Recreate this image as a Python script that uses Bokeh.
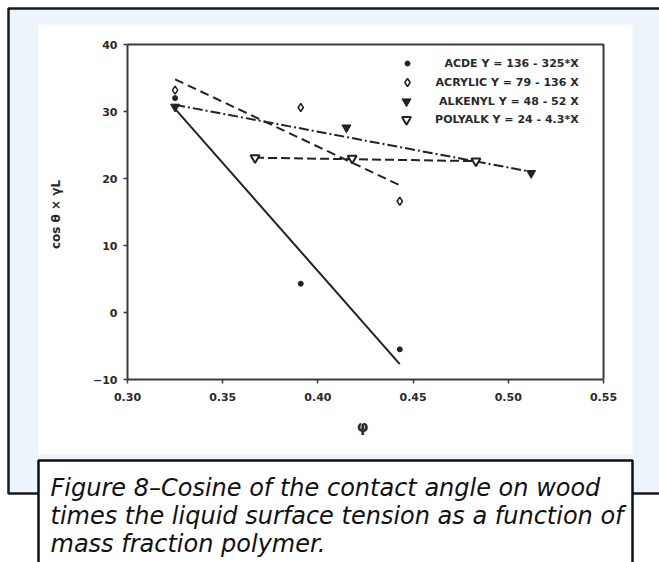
import math
from bokeh.plotting import figure
from bokeh.models import Range1d, LinearAxis, FixedTicker, NumeralTickFormatter
from bokeh.core.properties import value
from bokeh.embed import file_html
from bokeh.resources import INLINE

# ---------------- data ----------------
x_ticks = [0.30, 0.35, 0.40, 0.45, 0.50, 0.55]
y_ticks = [-10, 0, 10, 20, 30, 40]

acde_x = [0.325, 0.391, 0.443]
acde_y = [32.0, 4.3, -5.5]
acrylic_x = [0.325, 0.391, 0.443]
acrylic_y = [33.2, 30.6, 16.6]
alkenyl_x = [0.325, 0.415, 0.512]
alkenyl_y = [30.7, 27.6, 20.8]
polyalk_x = [0.367, 0.418, 0.483]
polyalk_y = [23.1, 23.0, 22.6]

# fitted lines (end points)
acde_fit_x = [0.325, 0.443]
acde_fit_y = [30.4, -7.7]
acrylic_fit_x = [0.325, 0.443]
acrylic_fit_y = [34.8, 19.0]
alkenyl_fit_x = [0.325, 0.512]
alkenyl_fit_y = [31.0, 21.0]
polyalk_fit_x = [0.367, 0.483]
polyalk_fit_y = [23.1, 22.6]

legend_labels = ["ACDE  Y = 136 - 325*X",
                 "ACRYLIC  Y = 79 - 136 X",
                 "ALKENYL  Y = 48 - 52 X",
                 "POLYALK  Y = 24 - 4.3*X"]
caption_lines = ["Figure 8\u2013Cosine of the contact angle on wood",
                 "times the liquid surface tension as a function of",
                 "mass fraction polymer."]
y_label = "cos \u03b8 \u00d7 \u03b3L"
x_label = "\u03c6"

# ---------------- layout (pixels) ----------------
W, H = 659, 562
AX_L, AX_R, AX_T, AX_B = 127, 603, 44, 379
sx = (AX_R - AX_L) / (x_ticks[-1] - x_ticks[0])
sy = (AX_B - AX_T) / (y_ticks[-1] - y_ticks[0])
x0 = x_ticks[0] - AX_L / sx
x1 = x_ticks[0] + (W - AX_L) / sx
y1 = y_ticks[-1] + AX_T / sy
y0 = y_ticks[-1] - (H - AX_T) / sy

p = figure(width=W, height=H, x_range=Range1d(x0, x1), y_range=Range1d(y0, y1),
           x_axis_location=None, y_axis_location=None, toolbar_location=None,
           output_backend="svg", min_border=0, min_border_left=0, min_border_right=0,
           min_border_top=0, min_border_bottom=0)
p.outline_line_color = None
p.background_fill_color = "white"
p.border_fill_color = "white"
for g in p.grid:
    g.visible = False
p.extra_x_ranges = {"px": Range1d(0, W)}
p.extra_y_ranges = {"px": Range1d(H, 0)}
PX = dict(x_range_name="px", y_range_name="px")

# page decoration
p.quad(left=[8], right=[W + 5], top=[8], bottom=[493], fill_color="#EEF4FB",
       line_color="#1a1a1a", line_width=2.5, **PX)
p.quad(left=[38], right=[632], top=[24], bottom=[454], fill_color="white",
       line_color=None, **PX)

# axes
INK = "#3a3a3a"
xaxis = LinearAxis(fixed_location=y_ticks[0], ticker=FixedTicker(ticks=x_ticks),
                   formatter=NumeralTickFormatter(format="0.00"),
                   bounds=(x_ticks[0], x_ticks[-1]))
yaxis = LinearAxis(fixed_location=x_ticks[0], ticker=FixedTicker(ticks=y_ticks),
                   bounds=(y_ticks[0], y_ticks[-1]))
for ax in (xaxis, yaxis):
    ax.axis_line_color = INK
    ax.axis_line_width = 2
    ax.major_tick_line_color = INK
    ax.major_tick_line_width = 1.5
    ax.major_tick_out = 4
    ax.major_tick_in = 0
    ax.minor_tick_line_color = None
    ax.major_label_text_font = "DejaVu Sans"
    ax.major_label_text_font_style = "bold"
    ax.major_label_text_font_size = "11px"
    ax.major_label_text_color = "#2a2a2a"
xaxis.major_label_standoff = 9
yaxis.major_label_standoff = 6
p.add_layout(xaxis, "below")
p.add_layout(yaxis, "left")
p.line(x=[x_ticks[0], x_ticks[-1], x_ticks[-1]], y=[y_ticks[-1], y_ticks[-1], y_ticks[0]],
       line_color=INK, line_width=2)

# fit lines
LC = "#222222"
p.line(acde_fit_x, acde_fit_y, line_color=LC, line_width=2)
p.line(acrylic_fit_x, acrylic_fit_y, line_color=LC, line_width=2, line_dash="9 5")
p.line(alkenyl_fit_x, alkenyl_fit_y, line_color=LC, line_width=2, line_dash="10 3 2 3")
p.line(polyalk_fit_x, polyalk_fit_y, line_color=LC, line_width=2, line_dash="9 4")

# points
p.scatter(acde_x, acde_y, marker="circle", size=5, fill_color=LC, line_color=LC)
p.scatter(acrylic_x, acrylic_y, marker="diamond", size=8, fill_color="white",
          line_color=LC, line_width=1.5)
p.scatter(alkenyl_x, alkenyl_y, marker="inverted_triangle", size=9, fill_color=LC,
          line_color=LC)
p.scatter(polyalk_x, polyalk_y, marker="inverted_triangle", size=9, fill_color="white",
          line_color=LC, line_width=2)

# legend (drawn inside the plot box)
leg_y = [63, 82, 101, 119]
leg_mx = [407, 407, 406, 406]
p.scatter([leg_mx[0]], [leg_y[0]], marker="circle", size=5, fill_color=LC, line_color=LC, **PX)
p.scatter([leg_mx[1]], [leg_y[1]], marker="diamond", size=8, fill_color="white",
          line_color=LC, line_width=1.5, **PX)
p.scatter([leg_mx[2]], [leg_y[2]], marker="inverted_triangle", size=9, fill_color=LC,
          line_color=LC, **PX)
p.scatter([leg_mx[3]], [leg_y[3]], marker="inverted_triangle", size=9, fill_color="white",
          line_color=LC, line_width=2, **PX)
p.text(x=[582] * 4, y=leg_y, text=legend_labels, text_align="right",
       text_baseline="middle", text_font=value("DejaVu Sans"), text_font_style="bold",
       text_font_size="11px", text_color="#2a2a2a", **PX)

# axis titles
p.text(x=[55], y=[214], text=[y_label], angle=math.pi / 2, text_align="center",
       text_baseline="middle", text_font=value("DejaVu Sans"), text_font_style="bold",
       text_font_size="12px", text_color="#2a2a2a", **PX)
p.text(x=[362], y=[426], text=[x_label], text_align="center", text_baseline="middle",
       text_font=value("DejaVu Sans"), text_font_style="bold", text_font_size="15px",
       text_color="#2a2a2a", **PX)

# caption box
p.quad(left=[38], right=[632], top=[460], bottom=[H + 10], fill_color="white",
       line_color="#111111", line_width=2.5, **PX)
p.text(x=[50] * 3, y=[487, 515, 543], text=caption_lines, text_align="left",
       text_baseline="alphabetic", text_font=value("DejaVu Sans"),
       text_font_style="italic", text_font_size="24px", text_color="#111111", **PX)

open("out.html", "w").write(file_html(p, INLINE))
